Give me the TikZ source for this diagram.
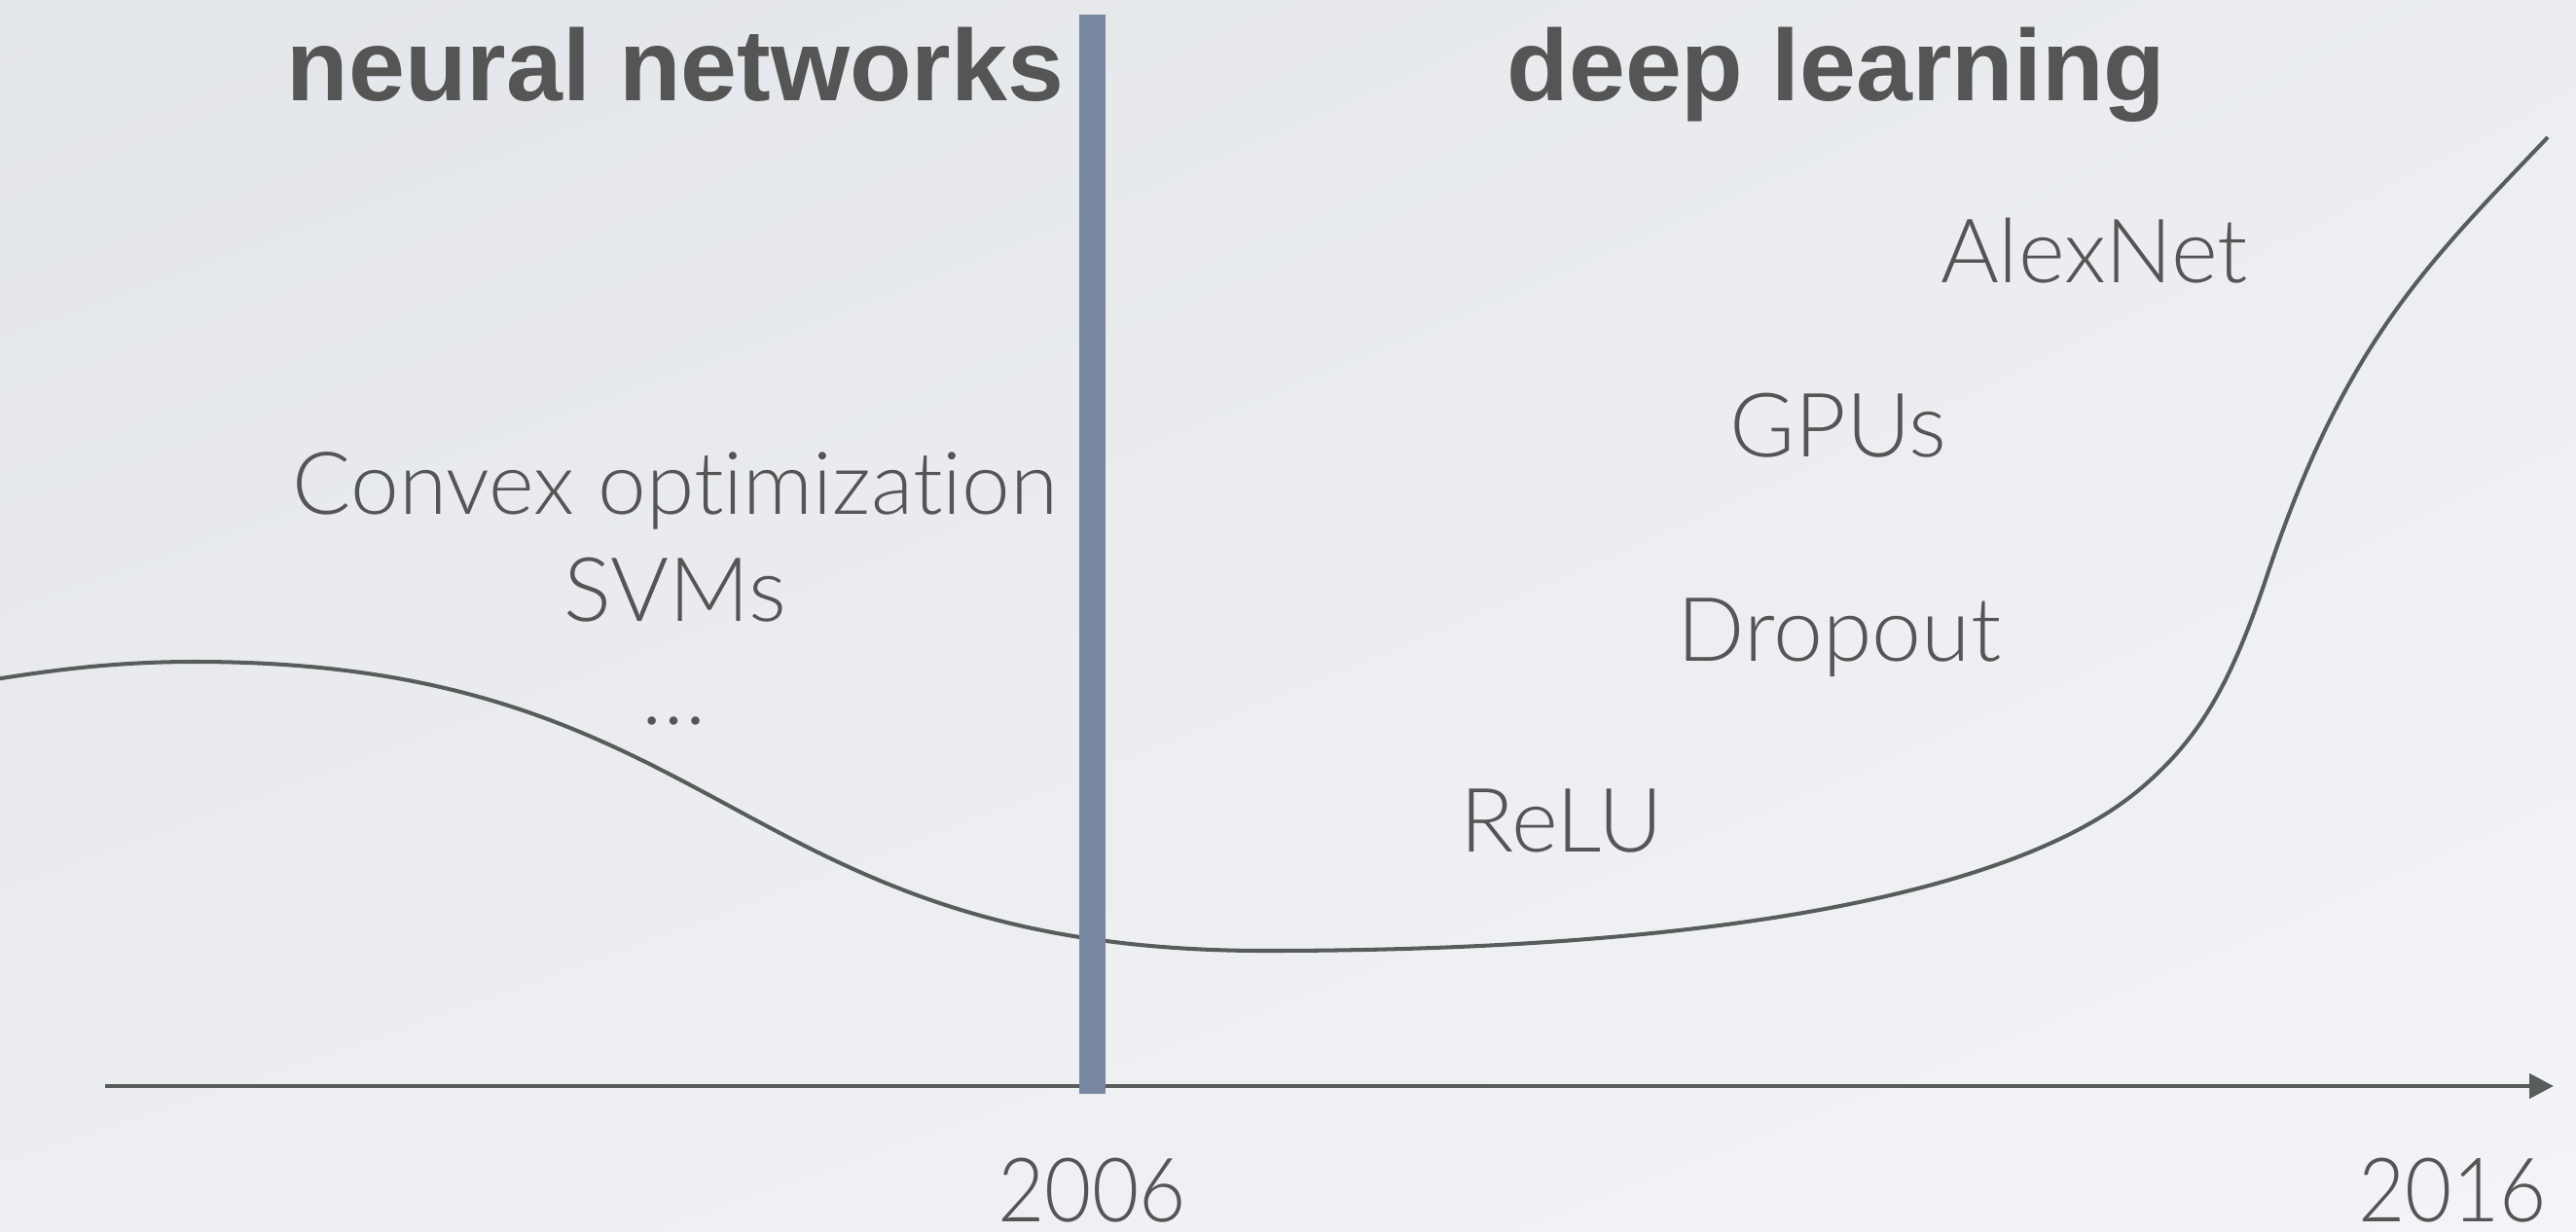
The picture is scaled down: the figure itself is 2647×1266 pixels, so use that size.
\documentclass[tikz,border=0pt]{standalone}
\usepackage{fontspec}
\setmainfont{Liberation Sans}
\newfontfamily\lightfont[Ligatures=NoCommon]{Lato Light}
\newfontfamily\digitfont[Ligatures=NoCommon,FakeStretch=0.91]{Lato Light}
\usetikzlibrary{arrows.meta,shadings}
\definecolor{txt}{HTML}{555555}
\definecolor{linec}{HTML}{585C5A}
\definecolor{barc}{HTML}{7888A1}
\definecolor{bgA}{HTML}{E2E5E9}
\definecolor{bgB}{HTML}{EBEDF0}
\definecolor{bgC}{HTML}{EDEEF2}
\definecolor{bgD}{HTML}{F3F4F8}
\begin{document}
\begin{tikzpicture}[x=0.01cm,y=-0.01cm,
  titletext/.style={font=\fontsize{29.6}{32}\selectfont\bfseries, text=txt, anchor=base, inner sep=0pt},
  lbl/.style={font=\lightfont\fontsize{26}{30}\selectfont, text=txt, anchor=base, inner sep=0pt},
  yearlbl/.style={font=\digitfont\fontsize{26}{30}\selectfont, text=txt, anchor=base, inner sep=0pt},
  curvestyle/.style={draw=linec, line width=1.15pt},
  axisstyle/.style={draw=linec, line width=1.4pt, -{Triangle[length=7.1pt, width=7.1pt]}},
]
\shade[upper left=bgA, upper right=bgB, lower left=bgC, lower right=bgD] (0,0) rectangle (2647,1266);
\useasboundingbox (0,0) rectangle (2647,1266);

% axis
\coordinate (axstart) at (108,1116);
\coordinate (axend) at (2624,1116);
\draw[axisstyle] (axstart) -- (axend);

% curve
\coordinate (c0) at (-5,698);
\coordinate (c1) at (200,680);
\coordinate (c2) at (1300,977);
\coordinate (c3) at (2200,810);
\coordinate (c4) at (2330,590);
\coordinate (c5) at (2618,141);
\draw[curvestyle] (c0)
  .. controls (70,686) and (130,680) .. (c1)
  .. controls (750,680) and (750,977) .. (c2)
  .. controls (1750,977) and (2070,920.5) .. (c3)
  .. controls (2260,759) and (2292,704) .. (c4)
  .. controls (2410,350) and (2498,267) .. (c5);

% bar
\coordinate (bartop) at (1122.5,15);
\coordinate (barbot) at (1122.5,1124);
\draw[barc, line width=7.6pt] (bartop) -- (barbot);

% titles
\node[titletext] (nn) at (694,103) {neural networks};
\node[titletext] (dl) at (1887,103) {deep learning};

% labels
\node[lbl] (alex) at (2152,290) {AlexNet};
\node[lbl] (gpu) at (1889,469) {GPUs};
\node[lbl, font=\lightfont\fontsize{25.4}{30}\selectfont] (cvx) at (694,528) {Convex optimization};
\node[lbl] (svm) at (694,638) {SVMs};
\node[lbl] (dots) at (693,744) {…};
\node[lbl] (drop) at (1890,679) {Dropout};
\node[lbl] (relu) at (1605,875) {ReLU};
\node[yearlbl] (y2006) at (1122,1255) {2006};
\node[yearlbl] (y2016) at (2520,1255) {2016};
\end{tikzpicture}
\end{document}
